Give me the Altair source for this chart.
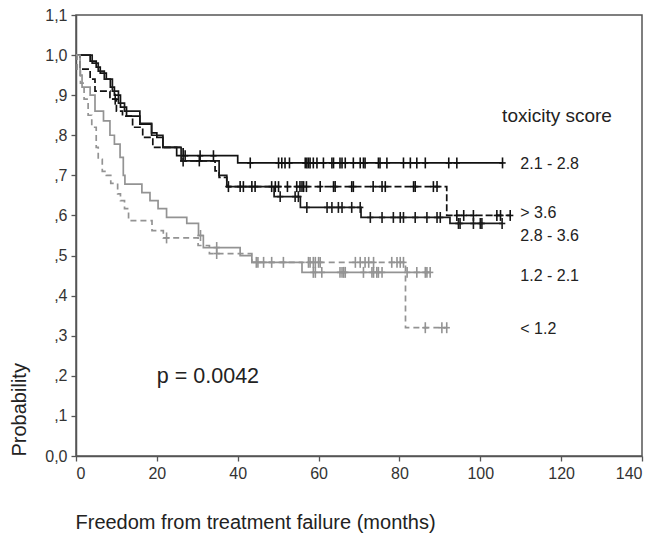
import altair as alt
import pandas as pd

FONT = "Liberation Sans, Arial, Helvetica, sans-serif"

groups = ["2.1 - 2.8", "> 3.6", "2.8 - 3.6", "1.2 - 2.1", "< 1.2"]
colors = ["#111111", "#111111", "#1a1a1a", "#939393", "#939393"]
dashes = [[1, 0], [7, 3], [1, 0], [1, 0], [6, 4]]

# step times (months) and survival after each step
t_21_28 = [3.5, 5.0, 6.0, 7.5, 8.5, 9.5, 11.0, 12.5, 15.8, 18.7, 20.0, 21.5, 24.9, 40.0]
s_21_28 = [0.985, 0.97, 0.955, 0.94, 0.92, 0.90, 0.87, 0.848, 0.828, 0.806, 0.795, 0.77, 0.749, 0.731]
end_21_28 = 105.5
c_21_28 = [27, 30.7, 34, 43.1, 50.1, 50.9, 51.7, 52.8, 56.7, 57.1, 57.5, 57.9, 58.7, 59.6,
           61.2, 63.3, 63.7, 65.3, 65.8, 66.6, 68.6, 70.3, 71.1, 71.5, 74.8, 75.2, 76.9,
           81.0, 82.7, 84.3, 86.4, 92.2, 94.2, 105.5]

t_36 = [1.0, 3.5, 4.7, 8.4, 10.0, 11.5, 14.0, 16.5, 19.0, 26.5, 34.4, 35.4, 37.3, 91.7]
s_36 = [0.965, 0.94, 0.91, 0.89, 0.86, 0.848, 0.82, 0.795, 0.77, 0.736, 0.711, 0.695, 0.672, 0.60]
end_36 = 107.4
c_36 = [9.7, 30.5, 37.7, 40.6, 41.4, 43.5, 44.3, 48.4, 49.3, 50.1, 52.3, 54.6, 55.4, 55.9,
        56.3, 57.0, 60.4, 63.7, 64.1, 68.2, 68.6, 73.5, 75.7, 76.5, 83.5, 83.9, 88.4, 89.3,
        94.2, 95.9, 98.3, 104.1, 105.0, 107.4]

t_28_36 = [4.0, 5.5, 7.0, 9.0, 10.5, 12.0, 15.8, 18.7, 21.5, 26.0, 35.4, 37.3, 49.0, 55.5, 70.5, 92.5]
s_28_36 = [0.98, 0.96, 0.94, 0.91, 0.88, 0.86, 0.83, 0.80, 0.77, 0.736, 0.70, 0.672, 0.647, 0.62, 0.595, 0.58]
end_28_36 = 105.4
c_28_36 = [26.5, 50.5, 54.2, 55.0, 57.1, 62.1, 63.3, 64.9, 65.8, 68.2, 70.3, 72.8, 75.7, 78.5,
           80.2, 81.0, 83.9, 86.8, 89.3, 90.1, 94.6, 95.0, 98.3, 100.0, 100.4, 105.4]

t_12_21 = [1.0, 1.5, 3.5, 4.7, 6.8, 8.4, 9.5, 10.9, 11.7, 12.1, 16.3, 18.3, 20.3, 22.4,
           27.4, 30.3, 31.5, 40.6, 43.5, 55.9]
s_12_21 = [0.95, 0.92, 0.90, 0.86, 0.836, 0.80, 0.778, 0.745, 0.70, 0.678, 0.657, 0.637,
           0.617, 0.595, 0.58, 0.55, 0.52, 0.50, 0.483, 0.458]
end_12_21 = 87.6
c_12_21 = [30.8, 34.8, 44.6, 45.0, 58.7, 59.2, 60.8, 65.3, 65.8, 66.2, 66.6, 71.1, 73.2,
           73.6, 74.4, 74.8, 75.7, 81.9, 84.3, 86.4, 86.8, 87.6]

t_12 = [0.3, 1.1, 2.0, 3.0, 3.9, 5.0, 5.5, 6.5, 7.5, 8.6, 10.3, 11.0, 12.0, 13.0, 18.8,
        21.6, 30.2, 33.0, 43.5, 81.5]
s_12 = [0.96, 0.93, 0.89, 0.85, 0.82, 0.77, 0.74, 0.71, 0.70, 0.68, 0.654, 0.637, 0.617,
        0.587, 0.562, 0.544, 0.525, 0.505, 0.483, 0.32]
end_12 = 91.7
c_12 = [22.4, 34.8, 46.4, 48.4, 51.3, 57.5, 57.9, 58.7, 59.2, 60.0, 60.4, 69.1, 70.3, 71.5,
        72.4, 73.6, 78.1, 79.4, 80.2, 81.0, 86.4, 90.5, 91.7]

steps = {
    "2.1 - 2.8": (t_21_28, s_21_28, end_21_28, c_21_28),
    "> 3.6": (t_36, s_36, end_36, c_36),
    "2.8 - 3.6": (t_28_36, s_28_36, end_28_36, c_28_36),
    "1.2 - 2.1": (t_12_21, s_12_21, end_12_21, c_12_21),
    "< 1.2": (t_12, s_12, end_12, c_12),
}

# legend labels (annotation positions in data units)
label_x = [109.9, 109.9, 109.9, 109.9, 109.9]
label_y = [0.728, 0.607, 0.549, 0.450, 0.318]
head_text = "toxicity score"
head_x = 105.4
head_y = 0.848
p_text = "p = 0.0042"
p_x = 20.0
p_y = 0.197

line_rows = []
cens_rows = []
for g in groups:
    ts, ss, end, cs = steps[g]
    line_rows.append({"group": g, "t": 0.0, "s": 1.0, "o": 0})
    for i, (t, s) in enumerate(zip(ts, ss)):
        line_rows.append({"group": g, "t": t, "s": s, "o": i + 1})
    line_rows.append({"group": g, "t": end, "s": ss[-1], "o": len(ts) + 1})
    for c in cs:
        sv = 1.0
        for t, s in zip(ts, ss):
            if t <= c:
                sv = s
        cens_rows.append({"group": g, "t": c, "s": sv})

lines_df = pd.DataFrame(line_rows)
cens_df = pd.DataFrame(cens_rows)
labels_df = pd.DataFrame({"label": groups, "x": label_x, "y": label_y})
ann_df = pd.DataFrame({"label": [head_text, p_text], "x": [head_x, p_x], "y": [head_y, p_y],
                       "size": [19, 21.5]})

y_ticks = [0.0, 0.1, 0.2, 0.3, 0.4, 0.5, 0.6, 0.7, 0.8, 0.9, 1.0, 1.1]
x_ticks = [0, 20, 40, 60, 80, 100, 120, 140]

xscale = alt.Scale(domain=[0, 140], nice=False, zero=True)
yscale = alt.Scale(domain=[0, 1.1], nice=False)
cscale = alt.Scale(domain=groups, range=colors)
dscale = alt.Scale(domain=groups, range=dashes)

x_axis = alt.Axis(values=x_ticks, title="Freedom from treatment failure (months)", grid=False,
                  tickSize=5, labelPadding=4, labelFontSize=16, labelColor="#333333",
                  titleFontSize=20, titleFontWeight="normal", titleColor="#222222",
                  titleAnchor="start", titleAlign="left", titleX=-1, titleY=72,
                  titleBaseline="alphabetic", domainColor="#555555", domainWidth=1.5,
                  tickColor="#555555", tickWidth=1.3, labelFont=FONT, titleFont=FONT)
y_axis = alt.Axis(values=y_ticks, title="Probability", grid=False, tickSize=5, labelPadding=4,
                  labelFontSize=16, labelColor="#333333",
                  labelExpr="datum.value < 0.05 ? '0,0' : (datum.value < 0.95 ? ',' + format(datum.value * 10, '.0f') : replace(format(datum.value, '.1f'), '.', ','))",
                  titleFontSize=20, titleFontWeight="normal", titleColor="#222222",
                  titleAngle=270, titleAlign="left", titleBaseline="alphabetic",
                  titleX=-51, titleY=441, domainColor="#555555", domainWidth=1.5,
                  tickColor="#555555", tickWidth=1.3, labelFont=FONT, titleFont=FONT)

base_x = alt.X("t:Q", scale=xscale, axis=x_axis)
base_y = alt.Y("s:Q", scale=yscale, axis=y_axis)

lines = alt.Chart(lines_df).mark_line(interpolate="step-after", strokeWidth=1.7).encode(
    x=base_x, y=base_y,
    color=alt.Color("group:N", scale=cscale, legend=None),
    strokeDash=alt.StrokeDash("group:N", scale=dscale, legend=None),
    order="o:Q",
)

cens = alt.Chart(cens_df).mark_point(shape="M0,-1L0,1", size=120, filled=False,
                                     strokeWidth=1.6, opacity=1).encode(
    x=alt.X("t:Q", scale=xscale),
    y=alt.Y("s:Q", scale=yscale),
    color=alt.Color("group:N", scale=cscale, legend=None),
)

cens_h = alt.Chart(cens_df).mark_point(shape="M-1,0L1,0", size=40, filled=False,
                                       strokeWidth=1.6, opacity=1).encode(
    x=alt.X("t:Q", scale=xscale),
    y=alt.Y("s:Q", scale=yscale),
    color=alt.Color("group:N", scale=cscale, legend=None),
)

labels = alt.Chart(labels_df).mark_text(align="left", baseline="middle", fontSize=16,
                                        font=FONT, color="#222222").encode(
    x=alt.X("x:Q", scale=xscale), y=alt.Y("y:Q", scale=yscale), text="label:N")

ann = alt.Chart(ann_df).mark_text(align="left", baseline="middle", font=FONT,
                                  color="#222222").encode(
    x=alt.X("x:Q", scale=xscale), y=alt.Y("y:Q", scale=yscale), text="label:N",
    size=alt.Size("size:Q", scale=None, legend=None))

chart = alt.layer(lines, cens, cens_h, labels, ann).properties(
    width=566, height=441,
    autosize=alt.AutoSizeParams(type="none"),
    padding={"left": 68, "top": 7, "right": 7, "bottom": 79},
    background="white",
).configure_view(stroke="#555555", strokeWidth=1.5)

chart.save("out.html", embed_options={"renderer": "svg", "actions": False})
